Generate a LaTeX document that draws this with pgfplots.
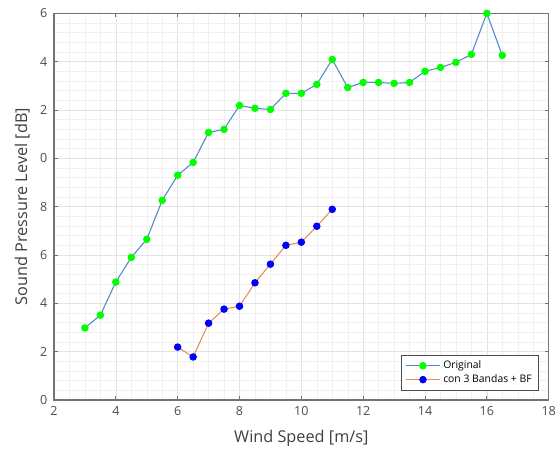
\documentclass[border=0pt]{standalone}
\usepackage{pgfplots}
\pgfplotsset{compat=1.18}
\usepackage{fontspec}
\setmainfont{Open Sans}
\definecolor{mblue}{rgb}{0.30,0.55,0.78}
\definecolor{morange}{rgb}{0.90,0.55,0.35}
\definecolor{axgray}{rgb}{0.45,0.45,0.45}
\begin{document}
\begin{tikzpicture}
\begin{axis}[
  scale only axis,
  width=371pt, height=290pt,
  xmin=2, xmax=18, ymin=0, ymax=16,
  xtick={2,4,...,18},
  ytick={0,2,...,16},
  yticklabels={0,2,4,6,8,0,2,4,6},
  minor x tick num=3,
  minor y tick num=4,
  grid=both,
  major grid style={gray!22, line width=0.4pt},
  minor grid style={gray!12, line width=0.3pt},
  tick align=inside,
  major tick length=3pt,
  minor tick length=0pt,
  axis line style={axgray, line width=0.8pt},
  tick style={axgray, line width=0.6pt},
  /pgf/number format/assume math mode=true,
  ticklabel style={font=\fontsize{9.4}{11}\selectfont, text=black!70},
  xlabel={Wind Speed [m/s]},
  ylabel={Sound Pressure Level [dB]},
  label style={font=\fontsize{12.2}{14}\selectfont, text=black!75},
  xlabel style={yshift=-4pt},
  ylabel style={yshift=1pt},
  yticklabel style={xshift=-1.5pt},
  xticklabel style={yshift=-1pt},
  legend style={at={(0.98,0.025)}, anchor=south east, font=\fontsize{7.8}{9}\selectfont,
    draw=black!70, line width=0.6pt, inner xsep=3pt, inner ysep=2pt, row sep=-1pt, fill=white},
  legend cell align=left,
  legend image code/.code={\draw[#1, mark repeat=2, mark phase=2] plot coordinates {(0cm,0cm) (0.45cm,0cm) (0.9cm,0cm)};},
]
\addplot[mblue, line width=0.8pt, mark=*, mark size=2.4pt, mark options={fill=green, draw=green}] coordinates {
(3,2.98) (3.5,3.51) (4,4.88) (4.5,5.90) (5,6.65) (5.5,8.26) (6,9.30) (6.5,9.83)
(7,11.07) (7.5,11.20) (8,12.19) (8.5,12.07) (9,12.02) (9.5,12.69) (10,12.69)
(10.5,13.06) (11,14.09) (11.5,12.93) (12,13.14) (12.5,13.14) (13,13.10) (13.5,13.14)
(14,13.60) (14.5,13.76) (15,13.97) (15.5,14.30) (16,16.0) (16.5,14.26)
};
\addlegendentry{Original}
\addplot[morange, line width=0.8pt, mark=*, mark size=2.4pt, mark options={fill=blue, draw=blue}] coordinates {
(6,2.19) (6.5,1.78) (7,3.18) (7.5,3.76) (8,3.88) (8.5,4.85) (9,5.62) (9.5,6.40)
(10,6.53) (10.5,7.19) (11,7.89)
};
\addlegendentry{con 3 Bandas + BF}
\end{axis}
\pgfresetboundingbox
\path (current axis.south west) ++(-40.5pt,-41.5pt) coordinate (bl);
\path (current axis.north east) ++(8.5pt,10pt) coordinate (tr);
\path[use as bounding box] (bl) rectangle (tr);
\end{tikzpicture}
\end{document}
